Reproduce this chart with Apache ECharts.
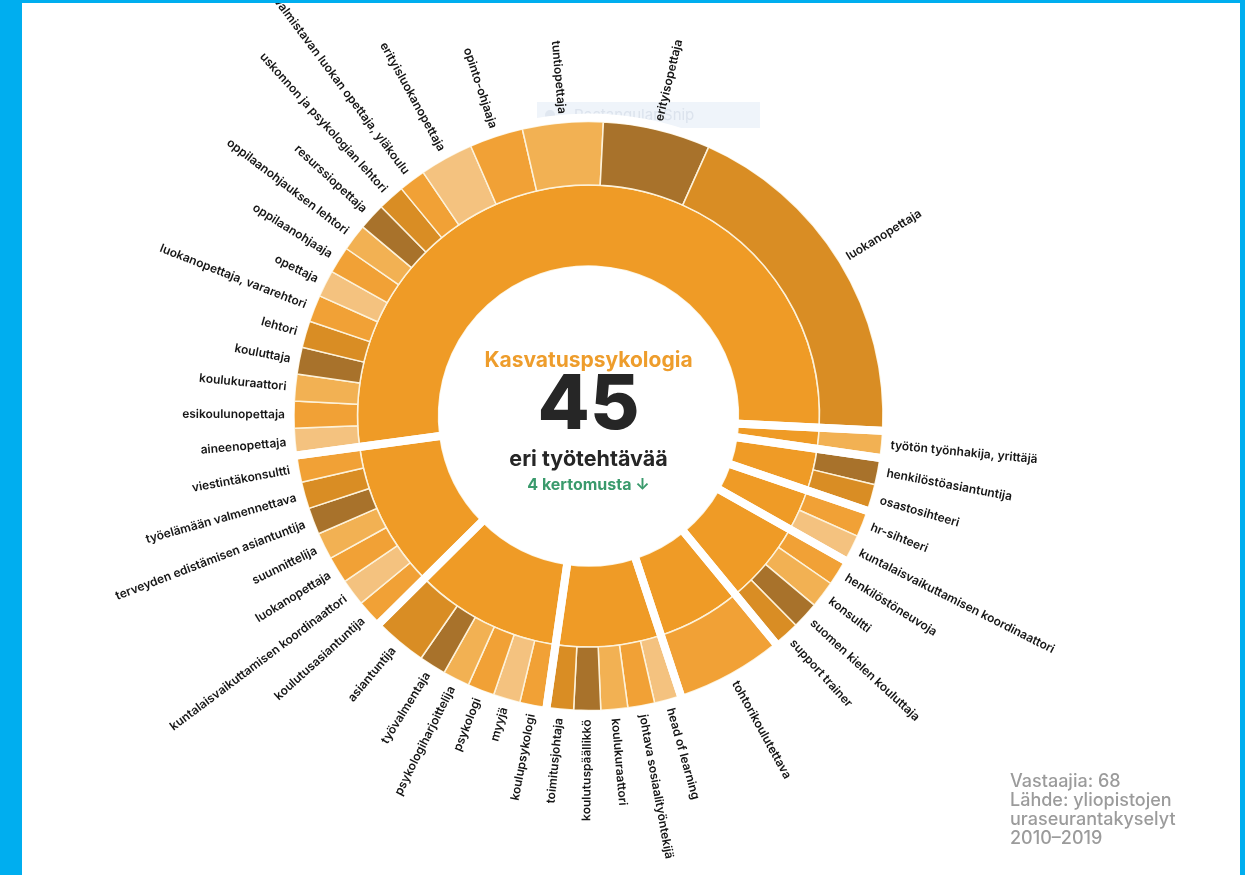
<!DOCTYPE html>
<html>
<head>
<meta charset="utf-8">
<script src="https://cdn.jsdelivr.net/npm/echarts@6/dist/echarts.min.js"></script>
<style>
  html, body { margin: 0; padding: 0; background: #fff; }
  #chart { width: 1245px; height: 875px; }
</style>
</head>
<body>
<div id="chart"></div>
<script>
// job titles per group, clockwise from 3 o'clock (smallest group first)
const groupTitles = [
    ['työtön työnhakija, yrittäjä'],
    ['henkilöstöasiantuntija', 'osastosihteeri'],
    ['hr-sihteeri', 'kuntalaisvaikuttamisen koordinaattori'],
    ['henkilöstöneuvoja', 'konsultti', 'suomen kielen kouluttaja', 'support trainer'],
    ['tohtorikoulutettava'],
    ['head of learning', 'johtava sosiaalityöntekijä', 'koulukuraattori', 'koulutuspäällikkö', 'toimitusjohtaja'],
    ['koulupsykologi', 'myyjä', 'psykologi', 'psykologiharjoittelija', 'työvalmentaja', 'asiantuntija'],
    ['koulutusasiantuntija', 'kuntalaisvaikuttamisen koordinaattori', 'luokanopettaja', 'suunnittelija',
        'terveyden edistämisen asiantuntija', 'työelämään valmennettava', 'viestintäkonsultti'],
    ['aineenopettaja', 'esikoulunopettaja', 'koulukuraattori', 'kouluttaja', 'lehtori',
        'luokanopettaja, vararehtori', 'opettaja', 'oppilaanohjaaja', 'oppilaanohjauksen lehtori',
        'resurssiopettaja', 'uskonnon ja psykologian lehtori', 'valmistavan luokan opettaja, yläkoulu',
        'erityisluokanopettaja', 'opinto-ohjaaja', 'tuntiopettaja', 'erityisopettaja', 'luokanopettaja']
]

// respondents per job title (68 in total)
const groupCounts = [
    [1],
    [1, 1],
    [1, 1],
    [1, 1, 1, 1],
    [4],
    [1, 1, 1, 1, 1],
    [1, 1, 1, 1, 1, 2],
    [1, 1, 1, 1, 1, 1, 1],
    [1, 1, 1, 1, 1, 1, 1, 1, 1, 1, 1, 1, 2, 2, 3, 4, 13]
]

const centerTitle = 'Kasvatuspsykologia'
const centerNumber = '45'
const centerUnit = 'eri työtehtävää'
const centerLink = '4 kertomusta ↓'
const footnote = ['Vastaajia: 68', 'Lähde: yliopistojen', 'uraseurantakyselyt', '2010–2019']

// shade of each outer cell (index into SHADES)
const groupShades = [
    [3],
    [0, 1],
    [2, 4],
    [2, 3, 0, 1],
    [2],
    [4, 2, 3, 0, 1],
    [2, 4, 2, 3, 0, 1],
    [2, 4, 2, 3, 0, 1, 2],
    [4, 2, 3, 0, 1, 2, 4, 2, 3, 0, 1, 2, 4, 2, 3, 0, 1]
]

const SHADES = ['#a8722b', '#d98d24', '#f1a136', '#f2b153', '#f4c27f']
const INNER_COLOR = '#ef9b26'
const LINE_COLOR = '#fdf2da'
const FONT = 'Inter, Roboto, "Noto Sans", sans-serif'

const CX = 588.5
const CY = 416
const R0 = 150
const R1 = 231
const R2 = 294.5
const START = -2.9

const sum = arr => arr.reduce((s, v) => s + v, 0)

const sunData = groupTitles.map((titles, g) => ({
    name: 'ryhmä ' + (g + 1),
    itemStyle: { color: INNER_COLOR },
    children: titles.map((t, i) => ({
        name: t,
        value: groupCounts[g][i],
        itemStyle: { color: SHADES[groupShades[g][i]] }
    }))
}))

const gapData = groupCounts.map((c, g) => ({ name: 'ryhmä ' + (g + 1), value: sum(c) }))

const chart = echarts.init(document.getElementById('chart'))

chart.setOption({
    backgroundColor: '#ffffff',
    animation: false,
    series: [
        {
            type: 'sunburst',
            center: [CX, CY],
            radius: [R0, R2],
            startAngle: START,
            clockwise: true,
            sort: null,
            nodeClick: false,
            emphasis: { disabled: true },
            levels: [
                {},
                {
                    r0: R0,
                    r: R1,
                    itemStyle: { borderWidth: 1.5, borderColor: LINE_COLOR },
                    label: { show: false }
                },
                {
                    r0: R1,
                    r: R2,
                    itemStyle: { borderWidth: 1.5, borderColor: LINE_COLOR },
                    label: {
                        show: true,
                        position: 'outside',
                        rotate: 'radial',
                        distance: 9,
                        minAngle: 0,
                        color: '#161616',
                        fontFamily: FONT,
                        fontWeight: 600,
                        fontSize: 12
                    }
                }
            ],
            data: sunData
        },
        {
            // white bands between the groups
            type: 'pie',
            z: 5,
            silent: true,
            center: [CX, CY],
            radius: [R0 - 4, R2 + 4],
            startAngle: START,
            clockwise: true,
            label: { show: false },
            labelLine: { show: false },
            emphasis: { disabled: true },
            itemStyle: {
                color: 'rgba(255,255,255,0)',
                borderColor: '#ffffff',
                borderWidth: 8,
                borderJoin: 'round'
            },
            data: gapData
        }
    ],
    graphic: [
        { type: 'rect', z: 0, shape: { x: 537, y: 102, width: 223, height: 26 }, style: { fill: '#eff4fa' } },
        { type: 'circle', z: 0, shape: { cx: 550, cy: 115, r: 5 }, style: { fill: '#e0e7f0' } },
        {
            type: 'text', z: 0, x: 574, y: 115,
            style: { text: 'Rectangular Snip', fill: '#dce3ed', font: '15px ' + FONT, align: 'left', verticalAlign: 'middle' }
        },
        { type: 'rect', z: 10, shape: { x: 0, y: 0, width: 22, height: 875 }, style: { fill: '#00aeef' } },
        { type: 'rect', z: 10, shape: { x: 0, y: 0, width: 1245, height: 3 }, style: { fill: '#00aeef' } },
        { type: 'rect', z: 10, shape: { x: 1240, y: 0, width: 5, height: 875 }, style: { fill: '#00aeef' } },
        {
            type: 'text', z: 10, x: CX, y: 361,
            style: { text: centerTitle, fill: '#ee9d2c', font: '700 21px ' + FONT, align: 'center', verticalAlign: 'middle' }
        },
        {
            type: 'text', z: 10, x: CX, y: 406,
            style: { text: centerNumber, fill: '#262626', font: '800 76px ' + FONT, align: 'center', verticalAlign: 'middle' }
        },
        {
            type: 'text', z: 10, x: CX, y: 460,
            style: { text: centerUnit, fill: '#262626', font: '700 21.5px ' + FONT, align: 'center', verticalAlign: 'middle' }
        },
        {
            type: 'text', z: 10, x: CX, y: 485,
            style: { text: centerLink, fill: '#3a9a6c', font: '700 16px ' + FONT, align: 'center', verticalAlign: 'middle' }
        },
        {
            type: 'text', z: 10, x: 1010, y: 772,
            style: {
                text: footnote.join('\n'), fill: '#9b9b9b', font: '500 18px ' + FONT,
                lineHeight: 19, align: 'left', verticalAlign: 'top'
            }
        }
    ]
})
</script>
</body>
</html>
